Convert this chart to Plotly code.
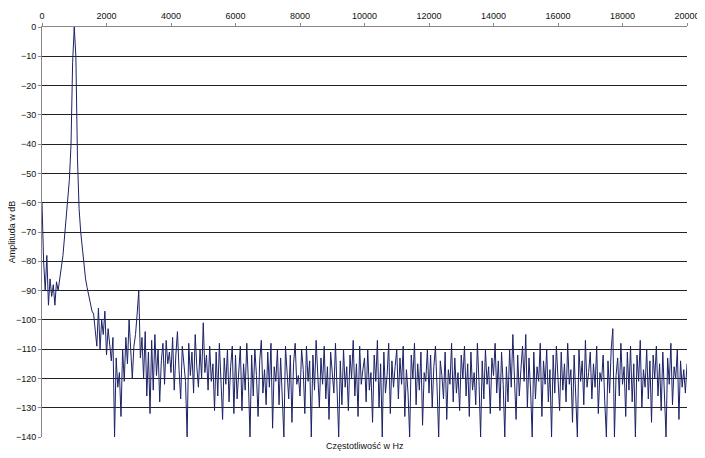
import plotly.graph_objects as go

step_hz = 50
amplitude_db = [
 -60,-80,-90,-78,-95,-86,-92,-88,-95,-87,-90,-85,-82,-78,-72,-66,-60,-52,-40,-12,
 0,-10,-45,-62,-70,-76,-82,-86,-89,-92,-94,-97,-98,-103,-109,-96,-110,-100,-105,-97,
 -112,-103,-108,-114,-106,-140,-113,-123,-118,-133,-110,-121,-106,-115,-100,-112,-120,-109,-105,-98,
 -90,-113,-106,-120,-104,-126,-111,-132,-107,-124,-105,-119,-110,-128,-114,-108,-122,-107,-115,-111,
 -118,-106,-124,-112,-104,-117,-127,-109,-114,-121,-140,-108,-119,-111,-125,-105,-116,-123,-110,-120,
 -101,-118,-112,-124,-109,-121,-115,-131,-111,-126,-108,-119,-134,-113,-122,-110,-128,-116,-109,-132,
 -112,-127,-118,-109,-131,-115,-124,-108,-121,-140,-112,-126,-110,-119,-133,-114,-107,-125,-117,-129,
 -111,-123,-108,-137,-116,-121,-110,-129,-113,-124,-140,-109,-118,-127,-112,-135,-115,-108,-122,-119,
 -126,-110,-117,-132,-109,-121,-114,-140,-112,-124,-107,-119,-130,-113,-122,-109,-127,-116,-134,-111,
 -118,-125,-108,-121,-140,-114,-129,-110,-123,-116,-131,-112,-120,-107,-126,-115,-133,-109,-122,-117,
 -113,-128,-110,-124,-118,-135,-112,-121,-107,-130,-115,-140,-111,-125,-119,-108,-132,-114,-123,-116,
 -110,-127,-113,-122,-109,-133,-117,-125,-140,-112,-120,-108,-129,-115,-124,-111,-136,-118,-121,-110,
 -125,-112,-130,-116,-109,-123,-140,-114,-119,-127,-111,-134,-117,-122,-108,-128,-113,-125,-118,-131,
 -112,-120,-109,-126,-115,-133,-111,-124,-118,-129,-108,-121,-140,-114,-127,-110,-122,-116,-132,-113,
 -119,-108,-125,-114,-131,-111,-122,-140,-116,-128,-110,-123,-105,-120,-134,-112,-126,-117,-109,-121,
 -105,-130,-113,-124,-140,-111,-127,-116,-121,-108,-133,-114,-122,-110,-128,-117,-140,-112,-125,-109,
 -120,-131,-111,-124,-115,-128,-108,-122,-117,-135,-112,-126,-140,-110,-121,-114,-129,-107,-123,-118,
 -111,-127,-115,-123,-109,-132,-118,-121,-112,-128,-140,-114,-125,-110,-103,-140,-119,-113,-126,-108,
 -122,-116,-133,-111,-124,-109,-128,-115,-140,-112,-121,-107,-130,-117,-123,-110,-127,-114,-135,-112,
 -120,-109,-126,-115,-131,-111,-124,-140,-113,-122,-108,-129,-116,-120,-110,-134,-114,-123,-117,-125,
 -115,
]
frequency_hz = [i * step_hz for i in range(len(amplitude_db))]
x_ticks = list(range(0, 20001, 2000))
x_labels = [str(v) for v in x_ticks]
y_ticks = list(range(-140, 1, 10))

fig = go.Figure(go.Scatter(x=frequency_hz, y=amplitude_db, mode="lines",
                           line=dict(color="#1c2266", width=1)))
font = dict(family="Liberation Sans, Arial", size=9, color="#111")
fig.update_layout(
    width=705, height=458, margin=dict(l=34, r=26, t=19, b=29),
    paper_bgcolor="white", plot_bgcolor="white", showlegend=False, font=font,
    xaxis=dict(range=[0, 20000], side="top", tickvals=x_ticks, ticktext=x_labels,
               showgrid=False, automargin=False,
               showline=True, linecolor="#888", ticks="outside", ticklen=3,
               tickcolor="#888", zeroline=False),
    yaxis=dict(range=[-140, 0], tickvals=y_ticks, showgrid=True, gridcolor="#222",
               gridwidth=1, showline=True, linecolor="#888", ticks="outside",
               ticklen=3, tickcolor="#888", zeroline=False, automargin=False),
    annotations=[
        dict(text="Częstotliwość w Hz", x=0.5, y=-0.005, xref="paper",
             yref="paper", yanchor="top", showarrow=False, font=font),
        dict(text="Amplituda w dB", x=-0.046, xanchor="center", y=0.5,
             xref="paper", yref="paper", showarrow=False, font=font, textangle=-90),
    ],
)
fig.write_html("out.html")
